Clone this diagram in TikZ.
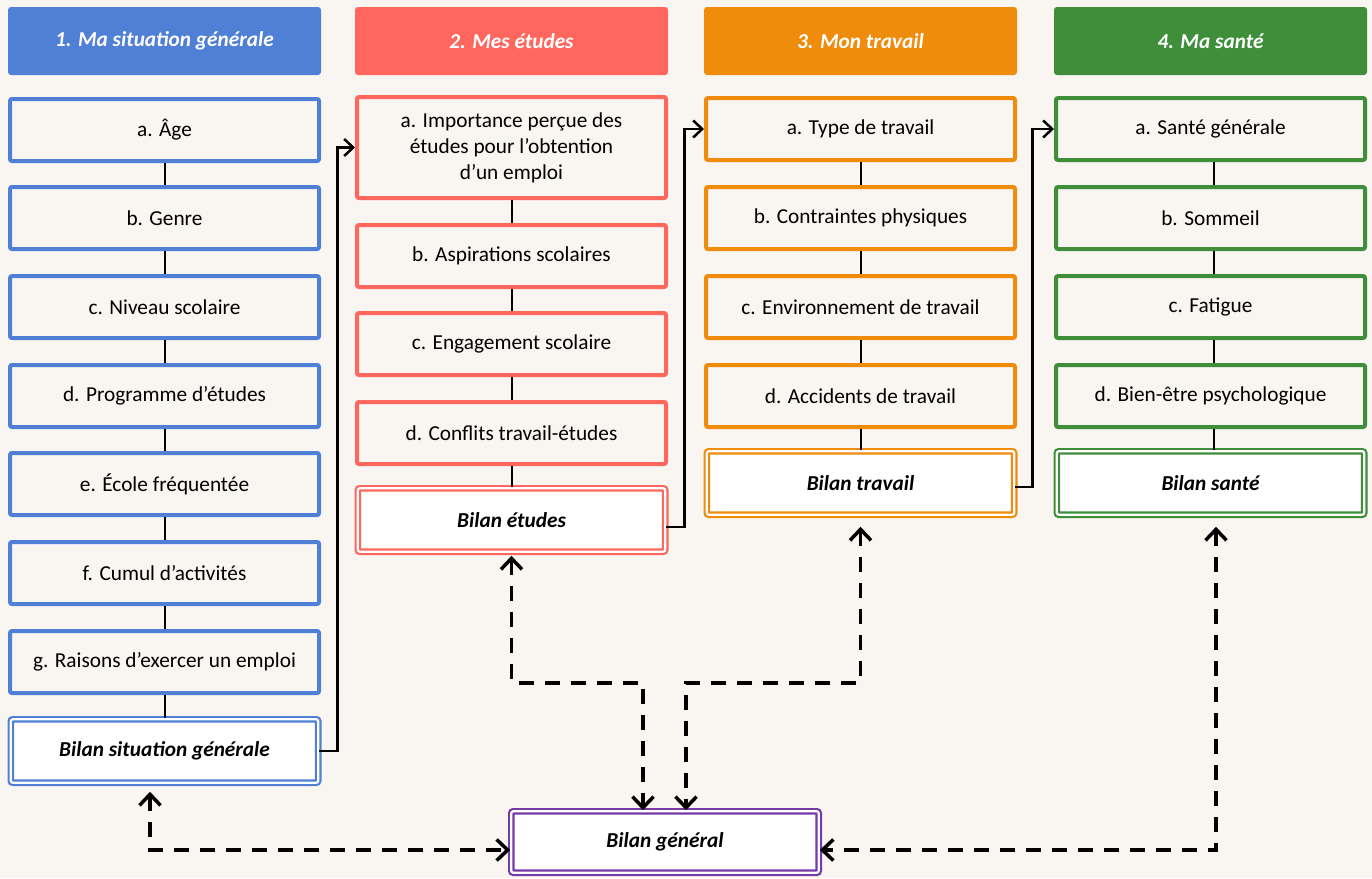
\documentclass[tikz,border=0pt]{standalone}
\usepackage{fontspec}
\setmainfont{Carlito}
\usetikzlibrary{arrows.meta}
\definecolor{bgc}{RGB}{249,246,242}
\definecolor{cblue}{RGB}{80,127,214}
\definecolor{cred}{RGB}{255,102,94}
\definecolor{corange}{RGB}{240,140,12}
\definecolor{cgreen}{RGB}{62,142,58}
\definecolor{cpurple}{RGB}{118,58,168}
\begin{document}
\begin{tikzpicture}[x=1pt,y=-1pt,
  hdr/.style={fill=#1, rounded corners=3pt, minimum width=313pt, minimum height=68pt, text=white, font=\fontsize{21.3}{25}\selectfont\bfseries\itshape, inner sep=0pt},
  item/.style={draw=#1, line width=4pt, rounded corners=2pt, minimum width=309pt, minimum height=62pt, font=\fontsize{21.3}{26}\selectfont, align=center, inner sep=0pt},
  bilan/.style={draw=#1, fill=white, line width=2.2pt, double=white, double distance=2.2pt, rounded corners=2pt, minimum width=307.4pt, minimum height=63.4pt, font=\fontsize{21.3}{25}\selectfont\bfseries\itshape, inner sep=0pt},
  link/.style={line width=2pt, draw=black},
  solidarr/.style={line width=2.5pt, -{Straight Barb[length=9pt,width=17pt]}},
  dasharr/.style={line width=3.5pt, dash pattern=on 15pt off 11pt, {Straight Barb[length=11pt,width=21pt]}-{Straight Barb[length=11pt,width=21pt]}}
]
\fill[bgc] (0,0) rectangle (1372,878);

% Column 1
\node[hdr=cblue] (h1hdr) at (164.5,41) {1. Ma situation générale};
\node[item=cblue] (s1) at (164.5,130) {a. Âge};
\node[item=cblue] (s2) at (164.5,218) {b. Genre};
\node[item=cblue] (s3) at (164.5,307) {c. Niveau scolaire};
\node[item=cblue] (s4) at (164.5,396) {d. Programme d’études};
\node[item=cblue] (s5) at (164.5,484) {e. École fréquentée};
\node[item=cblue] (s6) at (164.5,573) {f. Cumul d’activités};
\node[item=cblue] (s7) at (164.5,662) {g. Raisons d’exercer un emploi};
\node[bilan=cblue] (sbil) at (164.5,751) {Bilan situation générale};

% Column 2
\node[hdr=cred] (e0hdr) at (511.5,41) {2. Mes études};
\node[item=cred, minimum height=101pt] (e1) at (511.5,147.5) {a. Importance perçue des\\ études pour l’obtention\\ d’un emploi};
\node[item=cred] (e2) at (511.5,256) {b. Aspirations scolaires};
\node[item=cred] (e3) at (511.5,344) {c. Engagement scolaire};
\node[item=cred] (e4) at (511.5,433) {d. Conflits travail-études};
\node[bilan=cred] (ebil) at (511.5,520) {Bilan études};

% Column 3
\node[hdr=corange] (t0hdr) at (860.5,41) {3. Mon travail};
\node[item=corange] (t1) at (860.5,129) {a. Type de travail};
\node[item=corange] (t2) at (860.5,218) {b. Contraintes physiques};
\node[item=corange] (t3) at (860.5,307) {c. Environnement de travail};
\node[item=corange] (t4) at (860.5,396) {d. Accidents de travail};
\node[bilan=corange] (tbil) at (860.5,483) {Bilan travail};

% Column 4
\node[hdr=cgreen] (h0hdr) at (1210.5,41) {4. Ma santé};
\node[item=cgreen] (h1) at (1210.5,129) {a. Santé générale};
\node[item=cgreen] (h2) at (1210.5,218) {b. Sommeil};
\node[item=cgreen] (h3) at (1210.5,307) {c. Fatigue};
\node[item=cgreen] (h4) at (1210.5,396) {d. Bien-être psychologique};
\node[bilan=cgreen] (hbil) at (1210.5,483) {Bilan santé};

% Bilan general
\node[bilan=cpurple, minimum height=61.4pt] (bg) at (665,842) {Bilan général};

% vertical links
\foreach \a/\b in {s1/s2,s2/s3,s3/s4,s4/s5,s5/s6,s6/s7,s7/sbil,e1/e2,e2/e3,e3/e4,e4/ebil,t1/t2,t2/t3,t3/t4,t4/tbil}
  \draw[link] (\a.south) -- (\b.north);
\foreach \a/\b in {h1/h2,h2/h3,h3/h4,h4/hbil}
  \draw[link] ([xshift=3pt]\a.south) -- ([xshift=3pt]\b.north);

% solid arrows between columns
\draw[solidarr] (sbil.east) -- ++(18,0) |- (e1.west);
\draw[solidarr] ([yshift=-7pt]ebil.east) -- ++(18,0) |- (t1.west);
\draw[solidarr] ([yshift=-4pt]tbil.east) -- ++(17,0) |- (h1.west);

% dashed arrows to Bilan general
\coordinate (m1) at (643,683);
\coordinate (m2) at (686,683);
\draw[dasharr] ([xshift=-14.5pt,yshift=-8pt]sbil.south) |- ([yshift=-8pt]bg.west);
\draw[dasharr] ([yshift=-3pt]ebil.south) |- (m1) -- (m1 |- bg.north);
\draw[dasharr] ([yshift=-11pt]tbil.south) |- (m2) -- (m2 |- bg.north);
\draw[dasharr] ([xshift=5.5pt,yshift=-11pt]hbil.south) |- ([yshift=-8pt]bg.east);
\end{tikzpicture}
\end{document}
